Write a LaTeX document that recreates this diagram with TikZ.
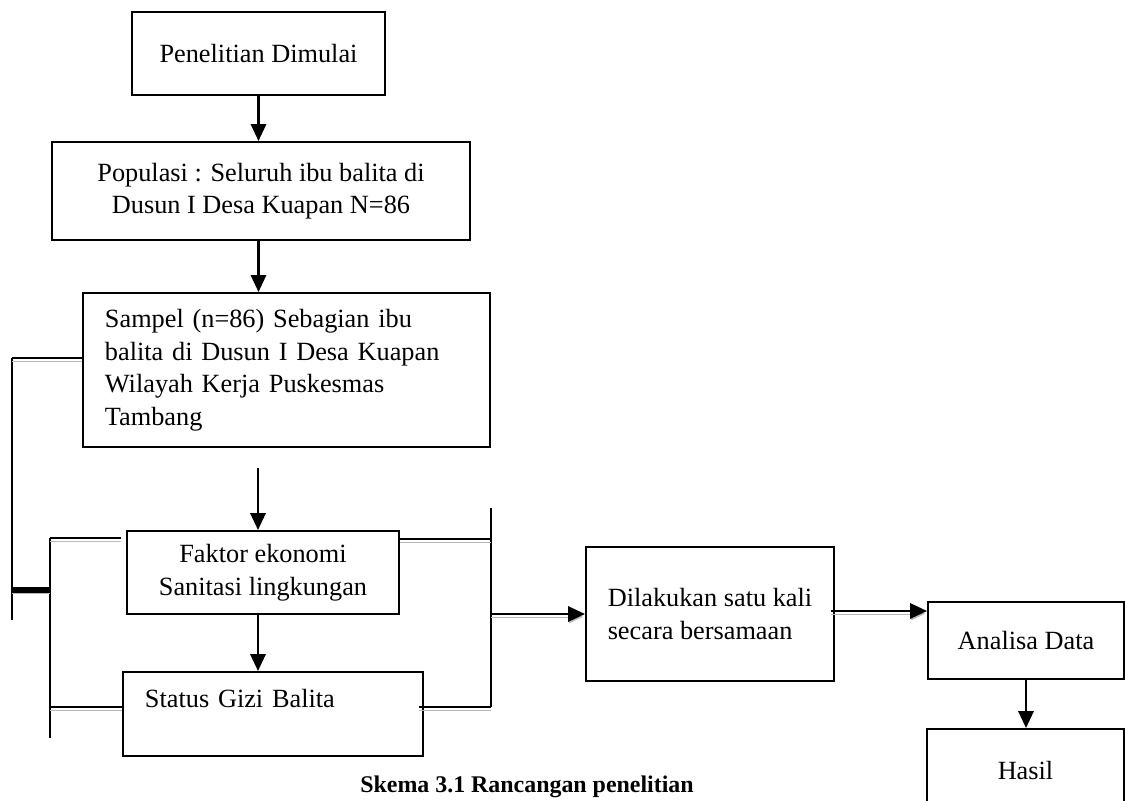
\documentclass[tikz,border=0pt]{standalone}
\usepackage{fontspec}
\setmainfont{Liberation Serif}
\usetikzlibrary{arrows.meta, positioning, calc}
\tikzset{
	box/.style      ={rectangle, draw=black, line width=1.4pt, inner sep=0pt, align=center},
	flowarrow/.style={-{Triangle[length=0.42cm, width=0.38cm]}, line width=1.6pt},
	link/.style     ={line width=1.6pt},
	% grey second line under the connectors
	shade/.style    ={preaction={draw=gray!55, transform canvas={yshift=-2pt}}},
}

\begin{document}
\begin{tikzpicture}[x=0.025cm, y=-0.025cm, font=\fontsize{18.7}{23.1}\selectfont]
	\useasboundingbox (0,0) rectangle (1125,801);
	% main column
	\node[box, minimum width=6.325cm, minimum height=2.075cm] (start) at (258.5,53.5) {Penelitian Dimulai};
	\node[box, minimum width=10.45cm, minimum height=2.45cm] (pop) at (261,191) {Populasi : Seluruh ibu balita di\\Dusun I Desa Kuapan N=86};
	\node[box, align=left, inner xsep=0.55cm, text width=9.075cm, minimum height=3.85cm] (sampel) at (286.5,370) {Sampel (n=86) Sebagian ibu\\balita di Dusun I Desa Kuapan\\Wilayah Kerja Puskesmas\\Tambang};
	\node[box, minimum width=6.8cm, minimum height=2.075cm] (faktor) at (263,572.5) {Faktor ekonomi\\Sanitasi lingkungan};
	\node[box, anchor=north, align=left, inner xsep=0.55cm, text width=6.4cm, text height=0.9cm, text depth=1.2cm] (gizi) at (273,671) {Status Gizi Balita};
	% right part
	\node[box, align=left, minimum width=6.2cm, minimum height=3.35cm] (dilak) at (710,614) {Dilakukan satu kali\\secara bersamaan};
	\node[box, minimum width=4.9cm, minimum height=1.925cm] (analisa) at (1026,640.5) {Analisa Data};
	\node[box, anchor=north, minimum width=4.925cm, text height=1.25cm, text depth=1.6cm] (hasil) at (1025.5,728) {Hasil};
	\node[font=\fontsize{17}{20}\selectfont\bfseries] (cap) at (527,787) {Skema 3.1 Rancangan penelitian};

	\coordinate (outerTop) at (12,358);  \coordinate (outerBot) at (12,620);
	\coordinate (innerTop) at (50,538);  \coordinate (innerBot) at (50,738);
	\coordinate (rightTop) at (491,508); \coordinate (rightBot) at (491,707);
	\coordinate (midTop) at (258,468);
	\coordinate (barY) at (0,590); \coordinate (hiY) at (0,539);
	\coordinate (lowY) at (0,707); \coordinate (outY) at (0,611);

	% arrows down the column
	\draw[flowarrow] (start.south) -- (start.south |- pop.north);
	\draw[flowarrow] (start.south |- pop.south) -- (start.south |- sampel.north);
	\draw[flowarrow] (midTop) -- (midTop |- faktor.north);
	\draw[flowarrow] (midTop |- faktor.south) -- (midTop |- gizi.north);
	\draw[flowarrow] (analisa.south) -- (analisa.south |- hasil.north);

	% brackets on the left
	\draw[link] (outerTop) -- (outerBot);
	\draw[link, shade] (outerTop) -- (outerTop -| sampel.west);
	\draw[link] (innerTop) -- (innerBot);
	\draw[link, shade, shorten >=0.125cm] (innerTop) -- (innerTop -| faktor.west);
	\draw[link, shade] (innerBot |- lowY) -- (lowY -| gizi.west);
	\draw[line width=3.8pt, shade] (outerTop |- barY) -- (innerTop |- barY);

	% bracket on the right
	\draw[link] (rightTop) -- (rightBot);
	\draw[link, shade] (hiY -| faktor.east) -- (hiY -| rightTop);
	\draw[link, shade] ($(lowY -| gizi.east)+(-5,0)$) -- (lowY -| rightBot);
	\draw[flowarrow, shade] (rightTop |- dilak.west) -- (dilak.west);
	\draw[flowarrow, shade] ($(outY -| dilak.east)+(-4,0)$) -- (outY -| analisa.west);
\end{tikzpicture}
\end{document}
